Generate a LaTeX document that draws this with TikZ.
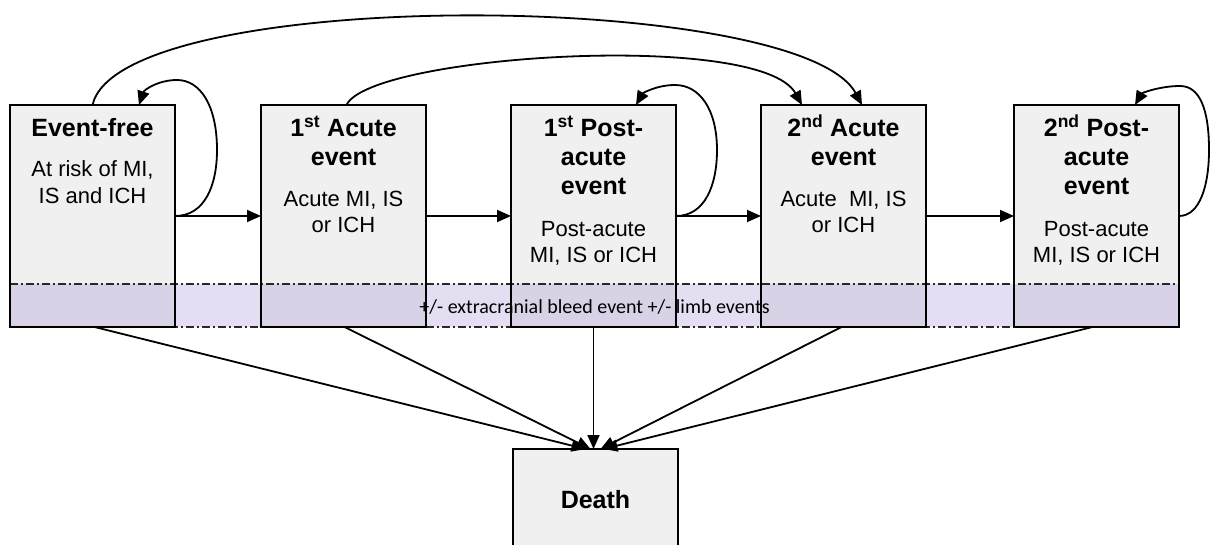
\documentclass[tikz,border=0pt]{standalone}
\usepackage{fontspec}
\setmainfont{Liberation Sans}
\newfontfamily\bandfont{Carlito}
\usetikzlibrary{arrows.meta}
\definecolor{boxgray}{RGB}{240,240,240}
\definecolor{bandlav}{RGB}{160,135,210}
\definecolor{dashgray}{RGB}{40,40,40}
\tikzset{
 stfill/.style={fill=boxgray, draw=none, minimum width=165, minimum height=222, anchor=north west, inner sep=0, outer sep=0},
 boxline/.style={draw=black, line width=1.8pt},
 ttl/.style={font=\fontsize{25}{29}\selectfont\bfseries, anchor=base, inner sep=0},
 bdy/.style={font=\fontsize{22}{26}\selectfont, anchor=base, inner sep=0},
 bandtxt/.style={font=\bandfont\fontsize{20}{24}\selectfont, anchor=base, inner sep=0},
 conn/.style={draw=black, line width=1.8pt, -{Triangle[length=14pt,width=12pt]}},
 dashdotline/.style={draw=dashgray, line width=1.3pt, dash pattern=on 8pt off 3pt on 2pt off 3pt},
}
\begin{document}
\begin{tikzpicture}[x=1pt,y=-1pt]
\useasboundingbox (0,0) rectangle (1210,545);
\clip (0,0) rectangle (1210,545);
% box fills
\node[stfill] (ef) at (10,105) {};
\node[stfill] (a1) at (261,105) {};
\node[stfill] (p1) at (511,105) {};
\node[stfill] (a2) at (761,105) {};
\node[stfill] (p2) at (1014,105) {};
\node[stfill, minimum height=120] (death) at (513,449) {};
% band
\fill[bandlav, fill opacity=0.28] (10,284) rectangle (1179,327);
\node[bandtxt] (band) at (594.5,313) {+/- extracranial bleed event +/- limb events};
\draw[dashdotline] (10,284) -- (1179,284);
\draw[dashdotline] (10,327) -- (1179,327);
% box borders
\foreach \n in {ef,a1,p1,a2,p2,death} \draw[boxline] (\n.north west) rectangle (\n.south east);
% texts
\node[ttl] (t1) at (92.5,137) {Event-free};
\node[bdy] (t1b) at (92.5,177) {At risk of MI,};
\node[bdy] (t1c) at (92.5,204) {IS and ICH};
\node[ttl] (t2) at (343.5,137) {1\textsuperscript{st} Acute};
\node[ttl] (t2a) at (343.5,166) {event};
\node[bdy] (t2b) at (343.5,207) {Acute MI, IS};
\node[bdy] (t2c) at (343.5,233) {or ICH};
\node[ttl] (t3) at (593.5,137) {1\textsuperscript{st} Post-};
\node[ttl] (t3a) at (593.5,166) {acute};
\node[ttl] (t3b) at (593.5,195) {event};
\node[bdy] (t3c) at (593.5,237) {Post-acute};
\node[bdy] (t3d) at (593.5,263) {MI, IS or ICH};
\node[ttl] (t4) at (843.5,137) {2\textsuperscript{nd} Acute};
\node[ttl] (t4a) at (843.5,166) {event};
\node[bdy] (t4b) at (843.5,207) {Acute\ \ MI, IS};
\node[bdy] (t4c) at (843.5,233) {or ICH};
\node[ttl] (t5) at (1096.5,137) {2\textsuperscript{nd} Post-};
\node[ttl] (t5a) at (1096.5,166) {acute};
\node[ttl] (t5b) at (1096.5,195) {event};
\node[bdy] (t5c) at (1096.5,237) {Post-acute};
\node[bdy] (t5d) at (1096.5,263) {MI, IS or ICH};
\node[ttl] (td) at (595.5,508) {Death};
% horizontal arrows
\draw[conn] (ef.east) -- (a1.west);
\draw[conn] (a1.east) -- (p1.west);
\draw[conn] (p1.east) -- (a2.west);
\draw[conn] (a2.east) -- (p2.west);
% self loops
\draw[conn] (ef.east) .. controls (205,216) and (217,185) .. (217,150) .. controls (217,105) and (200,80) .. (177,80) .. controls (158,80) and (144,90) .. ([xshift=-36pt]ef.north east);
\draw[conn] (p1.east) .. controls (705,216) and (717,185) .. (717,150) .. controls (717,110) and (700,85) .. (675,85) .. controls (657,85) and (643,93) .. ([xshift=-40pt]p1.north east);
\draw[conn] (p2.east) .. controls (1200,216) and (1209,185) .. (1209,150) .. controls (1209,110) and (1200,86) .. (1180,86) .. controls (1160,86) and (1142,93) .. ([xshift=-44pt]p2.north east);
% long arcs
\draw[conn] (ef.north) .. controls (120,-15) and (800,-10) .. ([xshift=18.5pt]a2.north);
\draw[conn] ([xshift=3pt]a1.north) .. controls (370,55) and (760,30) .. ([xshift=41pt]a2.north west);
% to death
\draw[conn] ([xshift=2pt]ef.south) -- ([xshift=-10pt]death.north);
\draw[conn] ([xshift=1pt]a1.south) -- ([xshift=-5pt]death.north);
\draw[conn] (p1.south) -- ([xshift=-2pt]death.north);
\draw[conn] ([xshift=-2pt]a2.south) -- ([xshift=5pt]death.north);
\draw[conn] ([xshift=-4pt]p2.south) -- ([xshift=8pt]death.north);
\end{tikzpicture}
\end{document}
